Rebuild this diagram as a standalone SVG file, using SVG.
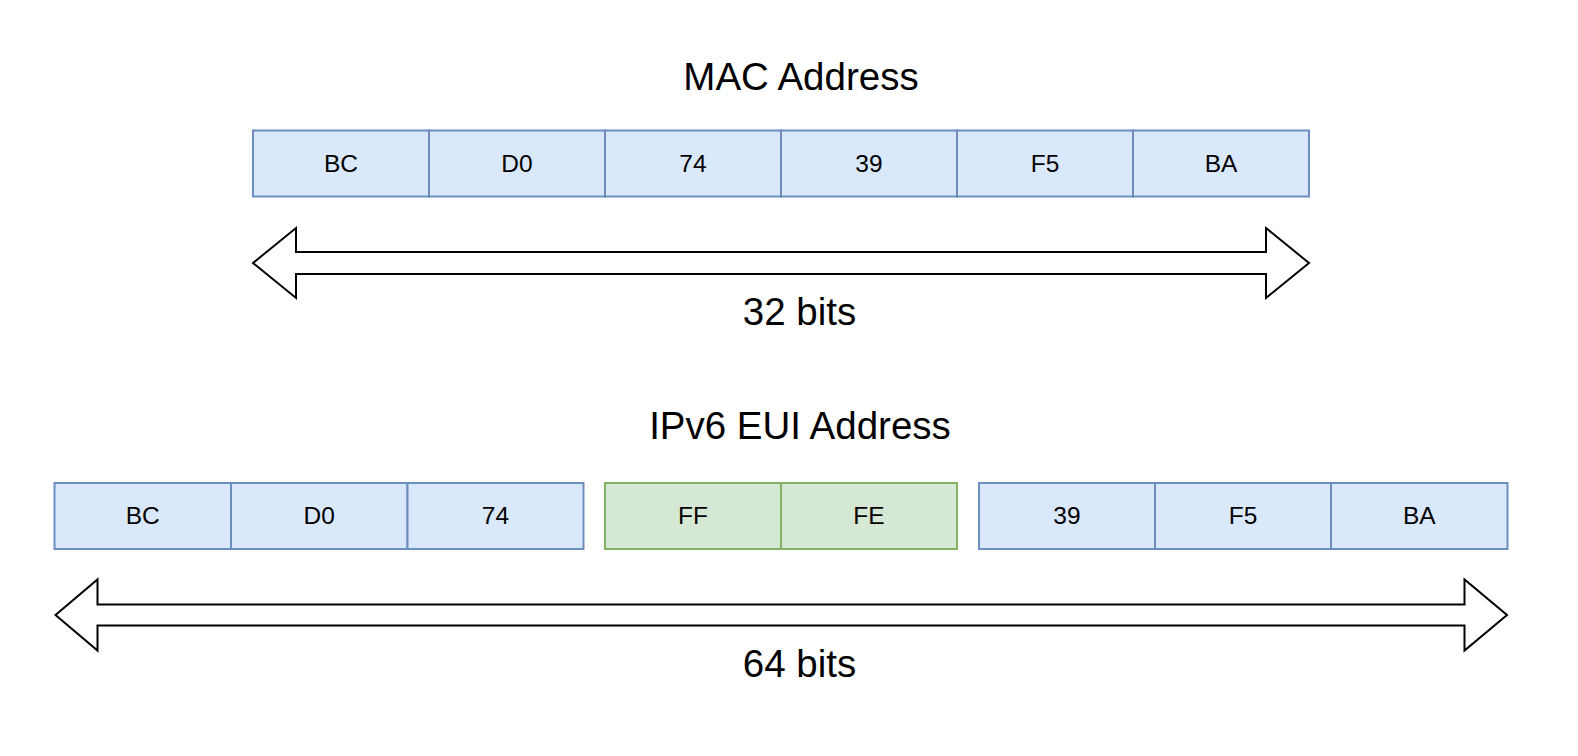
<svg xmlns="http://www.w3.org/2000/svg" width="1578" height="756" viewBox="0 0 1578 756">
<style>
  .blue { fill: #dae8fc; stroke: #6c8ebf; stroke-width: 2; }
  .green { fill: #d5e8d4; stroke: #82b366; stroke-width: 2; }
  .cell { font-family: "Liberation Sans", Arial, Helvetica, sans-serif; font-size: 24.5px; fill: #000; text-anchor: middle; }
  .title { font-family: "Liberation Sans", Arial, Helvetica, sans-serif; font-size: 38.5px; fill: #000; text-anchor: middle; }
  .arrow { fill: #fff; stroke: #000; stroke-width: 2; stroke-linejoin: miter; }
</style>
<rect width="1578" height="756" fill="#fff"/>

<g id="title-mac"><text class="title" x="801" y="90">MAC Address</text></g>

<g id="mac-bc"><rect class="blue" x="253" y="130.5" width="176" height="66"/><text class="cell" x="341" y="172">BC</text></g>
<g id="mac-d0"><rect class="blue" x="429" y="130.5" width="176" height="66"/><text class="cell" x="517" y="172">D0</text></g>
<g id="mac-74"><rect class="blue" x="605" y="130.5" width="176" height="66"/><text class="cell" x="693" y="172">74</text></g>
<g id="mac-39"><rect class="blue" x="781" y="130.5" width="176" height="66"/><text class="cell" x="869" y="172">39</text></g>
<g id="mac-f5"><rect class="blue" x="957" y="130.5" width="176" height="66"/><text class="cell" x="1045" y="172">F5</text></g>
<g id="mac-ba"><rect class="blue" x="1133" y="130.5" width="176" height="66"/><text class="cell" x="1221" y="172">BA</text></g>

<g id="label-32"><text class="title" x="799.5" y="325">32 bits</text></g>

<g id="title-eui"><text class="title" x="800" y="439">IPv6 EUI Address</text></g>

<g id="eui-bc"><rect class="blue" x="54.5" y="483" width="176.5" height="66"/><text class="cell" x="142.75" y="524">BC</text></g>
<g id="eui-d0"><rect class="blue" x="231" y="483" width="176.5" height="66"/><text class="cell" x="319.25" y="524">D0</text></g>
<g id="eui-74"><rect class="blue" x="407.5" y="483" width="176" height="66"/><text class="cell" x="495.5" y="524">74</text></g>
<g id="eui-ff"><rect class="green" x="605" y="483" width="176" height="66"/><text class="cell" x="693" y="524">FF</text></g>
<g id="eui-fe"><rect class="green" x="781" y="483" width="176" height="66"/><text class="cell" x="869" y="524">FE</text></g>
<g id="eui-39"><rect class="blue" x="979" y="483" width="176" height="66"/><text class="cell" x="1067" y="524">39</text></g>
<g id="eui-f5"><rect class="blue" x="1155" y="483" width="176" height="66"/><text class="cell" x="1243" y="524">F5</text></g>
<g id="eui-ba"><rect class="blue" x="1331" y="483" width="176.5" height="66"/><text class="cell" x="1419.25" y="524">BA</text></g>

<g id="label-64"><text class="title" x="799.5" y="677">64 bits</text></g>

<g id="connectors">
  <polygon class="arrow" points="253,263 296,228 296,252 1266,252 1266,228 1309,263 1266,298 1266,274 296,274 296,298"/>
  <polygon class="arrow" points="55.5,615 97.5,579.5 97.5,604.5 1464.5,604.5 1464.5,579.5 1507,615 1464.5,650.5 1464.5,625.5 97.5,625.5 97.5,650.5"/>
</g>
</svg>
